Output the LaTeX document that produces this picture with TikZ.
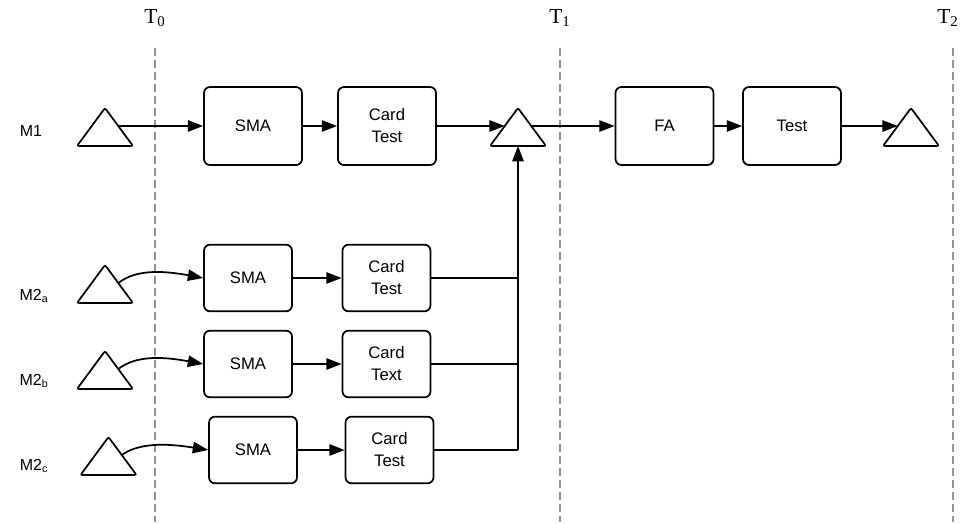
\documentclass[tikz,border=0pt]{standalone}
\usepackage{fontspec}
\setmainfont{Liberation Serif}
\setsansfont{Liberation Sans}
\usetikzlibrary{arrows.meta}
\begin{document}
\begin{tikzpicture}[x=0.75pt,y=-0.75pt,
  box/.style={draw, line width=1.3pt, rounded corners=4.5pt, align=center, inner sep=0pt,
    font=\sffamily\fontsize{12.5}{16.5}\selectfont},
  bigbox/.style={box, minimum width=73.5pt, minimum height=58.5pt},
  smallbox/.style={box, minimum width=66pt, minimum height=50pt},
  tri/.style={draw, line width=1.3pt, rounded corners=1.5pt, fill=white},
  conn/.style={line width=1.3pt, -{Triangle[length=11.5pt,width=8.5pt]}},
  plain/.style={line width=1.3pt, rounded corners=3pt},
  tline/.style={draw=black!42, line width=0.8pt, dash pattern=on 6pt off 3pt},
  tlabel/.style={font=\fontsize{16}{18}\selectfont},
  mlabel/.style={font=\sffamily\fontsize{12}{14}\selectfont}]
\useasboundingbox (0,0) rectangle (960,524);

% time lines
\foreach \n/\x/\lx/\s in {T0/155/155/0, T1/560/560/1, T2/953/948/2}{
  \node[tlabel] (\n) at (\lx,18) {T\textsubscript{\s}};
  \coordinate (\n top) at (\x,48);
  \coordinate (\n bot) at (\x,522);
  \draw[tline] (\n top) -- (\n bot);
}

% row labels
\node[mlabel] (lM1) at (31,131) {M1};
\node[mlabel] (lM2a) at (34,296) {M2\textsubscript{a}};
\node[mlabel] (lM2b) at (34,381) {M2\textsubscript{b}};
\node[mlabel] (lM2c) at (34,466) {M2\textsubscript{c}};

% triangles: centre x, base y
\newcommand\tria[3]{%
  \draw[tri] ({#2-28},#3) -- (#2,{#3-38}) -- ({#2+28},#3) -- cycle;
  \coordinate (#1) at (#2,{#3-19});
  \coordinate (#1 base) at (#2,#3);
  \coordinate (#1 in) at ({#2-13.3},{#3-20});
  \coordinate (#1 out) at ({#2+13.3},{#3-20});
}
\tria{s1}{105}{146}
\tria{j}{518}{146}
\tria{e}{911}{146}
\tria{sa}{105}{303}
\tria{sb}{105}{389}
\tria{sc}{108.5}{475}

% boxes
\node[bigbox] (sma1) at (253,126) {SMA};
\node[bigbox] (card1) at (387,126) {Card\\Test};
\node[bigbox] (fa) at (664.5,126) {FA};
\node[bigbox] (test) at (792,126) {Test};

\node[smallbox] (smaa) at (248,278) {SMA};
\node[smallbox] (carda) at (386.5,278) {Card\\Test};
\node[smallbox] (smab) at (248,364) {SMA};
\node[smallbox] (cardb) at (386.5,364) {Card\\Text};
\node[smallbox] (smac) at (253,450) {SMA};
\node[smallbox] (cardc) at (389.5,450) {Card\\Test};

% M1 chain
\draw[conn] (s1 out) -- (sma1.west);
\draw[conn] (sma1) -- (card1);
\draw[conn] (card1.east) -- (j in);
\draw[conn] (j out) -- (fa.west);
\draw[conn] (fa) -- (test);
\draw[conn] (test.east) -- (e in);

% M2 chains
\draw[conn] (sa out) .. controls (135,270) and (160,270) .. (smaa.west);
\draw[conn] (smaa) -- (carda);
\draw[conn] (sb out) .. controls (135,356) and (160,356) .. (smab.west);
\draw[conn] (smab) -- (cardb);
\draw[conn] (sc out) .. controls (138.5,443) and (165,443) .. (smac.west);
\draw[conn] (smac) -- (cardc);

% merge into junction
\coordinate (mc) at (518,450);
\draw[plain] (carda.east) -- (carda.east -| mc);
\draw[plain] (cardb.east) -- (cardb.east -| mc);
\draw[plain] (cardc.east) -- (mc);
\draw[conn] (mc) -- (j base);
\end{tikzpicture}
\end{document}
